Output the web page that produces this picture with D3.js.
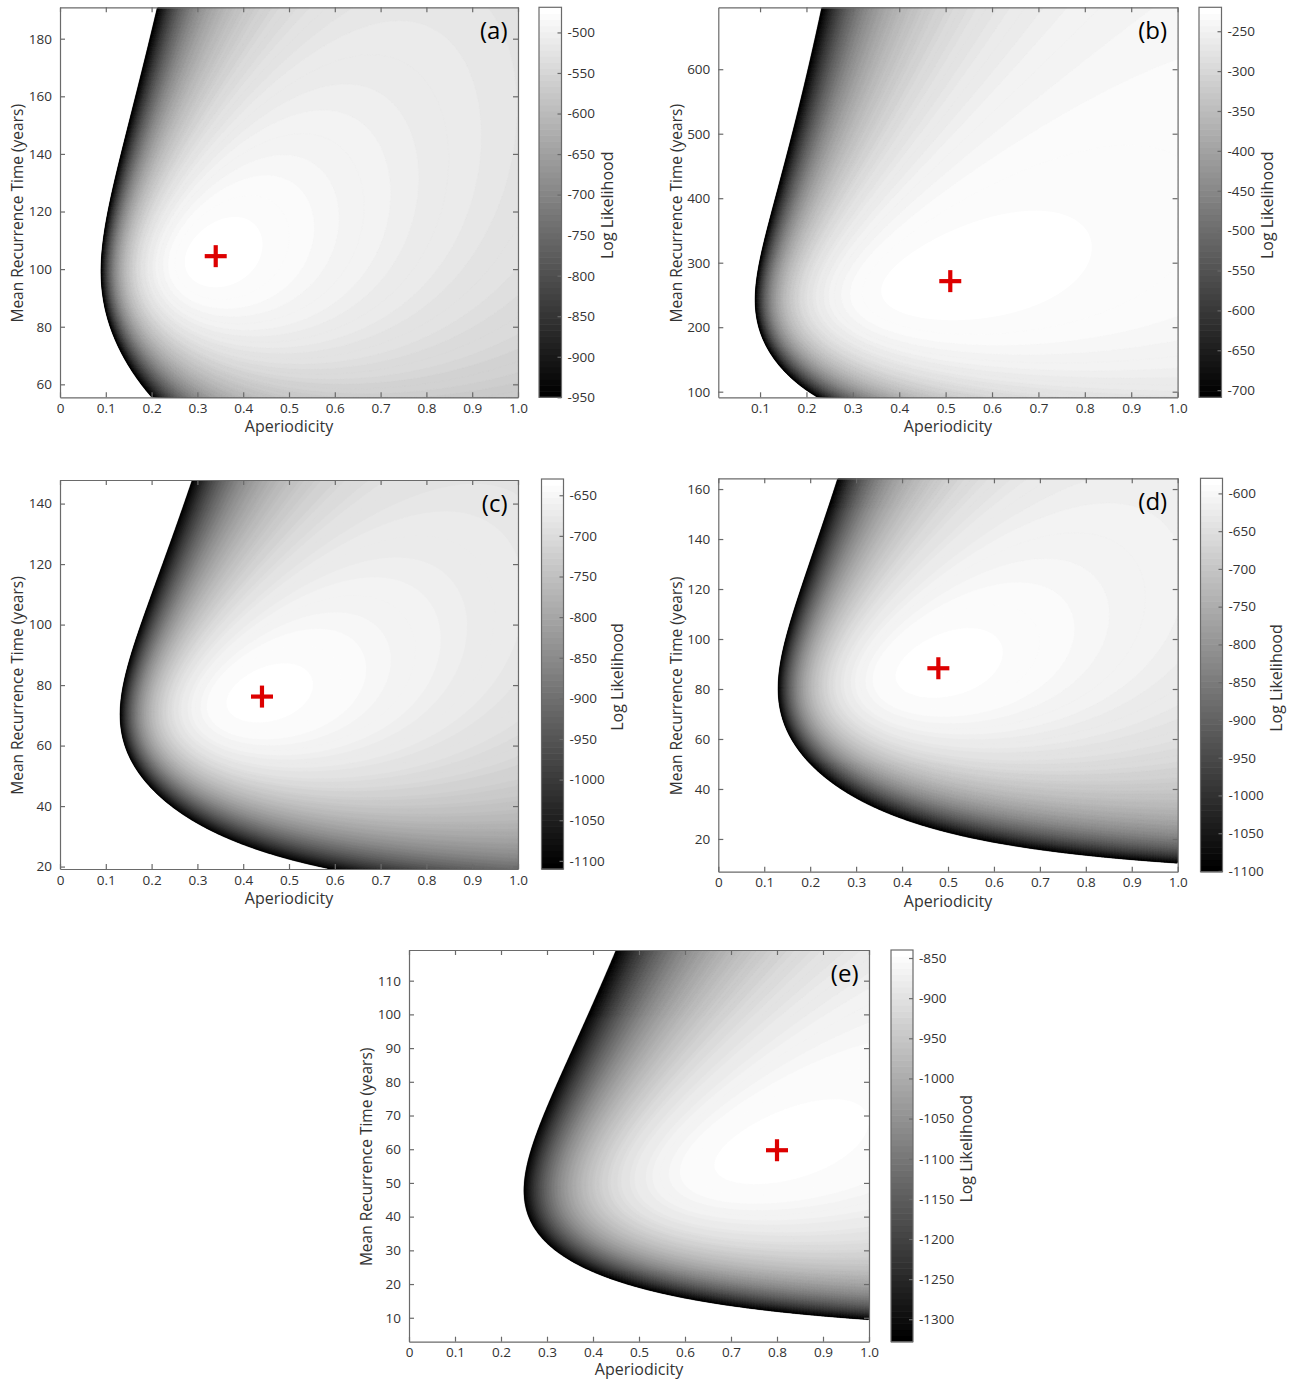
<!DOCTYPE html>
<html>
<head>
<meta charset="utf-8">
<script src="https://cdn.jsdelivr.net/npm/d3@7"></script>
<style>
  body { margin: 0; background: #fff; }
  svg text { font-family: "Open Sans", "Noto Sans", sans-serif; }
</style>
</head>
<body>
<svg id="fig" width="1295" height="1380"></svg>
<script>
// ---- BPT log-likelihood surfaces, one per fault section ----
const panelIds = ["a", "b", "c", "d", "e"];

// Maximum-likelihood estimates (red crosses)
const bestAperiodicity = [0.340, 0.510, 0.441, 0.479, 0.800];
const bestRecurrence   = [104.5, 271.4, 76.2, 88.3, 59.7];

// Effective number of recurrence intervals behind each surface
const intervalCounts = [92, 37, 128, 111, 165];

// Colour limits of the log likelihood (top = peak value)
const logLikMax = [-469, -220, -630, -580, -840];
const logLikMin = [-950, -709, -1110, -1101, -1328];

// Axis extents
const aperiodicityExtent = [[0, 1], [0.01, 1], [0, 1], [0, 1], [0, 1]];
const recurrenceExtent   = [[55.5, 190.9], [91.3, 696], [19.2, 147.8], [6.9, 164.3], [2.9, 119.1]];

// Tick values
const xTicksFull = [0, 0.1, 0.2, 0.3, 0.4, 0.5, 0.6, 0.7, 0.8, 0.9, 1.0];
const xTicksNoZero = [0.1, 0.2, 0.3, 0.4, 0.5, 0.6, 0.7, 0.8, 0.9, 1.0];
const xTicks = [xTicksFull, xTicksNoZero, xTicksFull, xTicksFull, xTicksFull];
const yTicks = [
  [60, 80, 100, 120, 140, 160, 180],
  [100, 200, 300, 400, 500, 600],
  [20, 40, 60, 80, 100, 120, 140],
  [20, 40, 60, 80, 100, 120, 140, 160],
  [10, 20, 30, 40, 50, 60, 70, 80, 90, 100, 110]
];
const colorbarTicks = [
  [-500, -550, -600, -650, -700, -750, -800, -850, -900, -950],
  [-250, -300, -350, -400, -450, -500, -550, -600, -650, -700],
  [-650, -700, -750, -800, -850, -900, -950, -1000, -1050, -1100],
  [-600, -650, -700, -750, -800, -850, -900, -950, -1000, -1050, -1100],
  [-850, -900, -950, -1000, -1050, -1100, -1150, -1200, -1250, -1300]
];

// ---- layout (pixel boxes: left, top, right, bottom) ----
const plotBoxes = [
  [60, 7.3, 518, 397.3],
  [718.3, 7.3, 1177.6, 397.3],
  [60, 480, 518, 869],
  [718.3, 478.3, 1177.7, 871.7],
  [409, 950, 869, 1341.7]
];
const barBoxes = [
  [539, 7.3, 561.5, 397.3],
  [1199, 7.3, 1221.5, 397.3],
  [541.5, 479, 563.5, 869],
  [1200.5, 478.3, 1222.5, 871.7],
  [891, 950, 913, 1341.7]
];

const FIG_HEIGHT = 1380;
const AXIS_COLOR = "#6a6a6a";
const TEXT_COLOR = "#333";
const GRID_N = 300;        // grid resolution of each surface
const LEVEL_COUNT = 96;    // filled contour levels
const CMAP_SIZE = 64;      // entries of the gray colormap

const svg = d3.select("#fig");
const defs = svg.append("defs");

// Gray colormap with a fixed number of entries, black at the lower limit
function grayColor(v, lo, hi) {
  const t = (v - lo) / (hi - lo);
  const idx = Math.max(0, Math.min(CMAP_SIZE - 1, Math.floor(t * CMAP_SIZE)));
  const g = Math.round(idx / (CMAP_SIZE - 1) * 255);
  return d3.rgb(g, g, g).formatHex();
}

// Log likelihood of the Brownian passage time model for a set of intervals
// whose sample statistics give the stated maximum-likelihood estimates.
function logLikelihood(p, alpha, mu) {
  const a0 = bestAperiodicity[p], m0 = bestRecurrence[p];
  const n = intervalCounts[p], top = logLikMax[p];
  const r = mu / m0;
  const s2 = 1 + a0 * a0;
  return top + n * (0.5 * Math.log(r) - Math.log(alpha / a0) + 0.5
                    - (1 / r - 2 + r * s2) / (2 * alpha * alpha));
}

const fmtX = d => d === 0 ? "0" : d.toFixed(1);
const fmtInt = d => String(d);

panelIds.forEach((id, p) => {
  const [L, T, R, B] = plotBoxes[p];
  const [ax0, ax1] = aperiodicityExtent[p];
  const [my0, my1] = recurrenceExtent[p];
  const lo = logLikMin[p], hi = logLikMax[p];

  const x = d3.scaleLinear().domain([ax0, ax1]).range([L, R]);
  const y = d3.scaleLinear().domain([my0, my1]).range([B, T]);

  // grid coordinates -> data coordinates
  const gx = d3.scaleLinear().domain([0, GRID_N]).range([ax0, ax1]);
  const gy = d3.scaleLinear().domain([0, GRID_N]).range([my0, my1]);

  const values = new Float64Array(GRID_N * GRID_N);
  for (let j = 0; j < GRID_N; j++) {
    const mu = gy(j + 0.5);
    for (let i = 0; i < GRID_N; i++) {
      const a = gx(i + 0.5);
      values[j * GRID_N + i] = logLikelihood(p, a, mu);
    }
  }

  const levels = d3.range(LEVEL_COUNT).map(k => lo + k * (hi - lo) / LEVEL_COUNT);
  const bands = d3.contours().size([GRID_N, GRID_N]).thresholds(levels)(values);

  const proj = d3.geoTransform({
    point: function (cx, cy) { this.stream.point(x(gx(cx)), y(gy(cy))); }
  });
  const path = d3.geoPath(proj);

  const clipId = "clip-" + id;
  defs.append("clipPath").attr("id", clipId)
    .append("rect").attr("x", L).attr("y", T).attr("width", R - L).attr("height", B - T);

  const panel = svg.append("g").attr("class", "panel-" + id);

  panel.append("rect").attr("x", L).attr("y", T).attr("width", R - L).attr("height", B - T)
    .attr("fill", "#fff");

  panel.append("g").attr("clip-path", `url(#${clipId})`)
    .selectAll("path").data(bands).join("path")
    .attr("d", path)
    .attr("fill", d => grayColor(d.value, lo, hi))
    .attr("stroke", d => grayColor(d.value, lo, hi))
    .attr("stroke-width", 0.3);

  // best-fit marker
  const cx = x(bestAperiodicity[p]), cy = y(bestRecurrence[p]);
  const cross = panel.append("g").attr("stroke", "#dd0000").attr("stroke-width", 4.2);
  cross.append("line").attr("x1", cx - 11).attr("x2", cx + 11).attr("y1", cy).attr("y2", cy);
  cross.append("line").attr("x1", cx).attr("x2", cx).attr("y1", cy - 11).attr("y2", cy + 11);

  // axes with inward ticks on all four sides
  const styleAxis = g => {
    g.select(".domain").attr("stroke", AXIS_COLOR).attr("stroke-width", 1.2);
    g.selectAll(".tick line").attr("stroke", AXIS_COLOR).attr("stroke-width", 1.2);
    g.selectAll(".tick text").attr("fill", TEXT_COLOR).attr("font-size", 13.5)
      .attr("font-family", "\"Open Sans\", sans-serif");
  };
  panel.append("g").attr("transform", `translate(0,${B})`)
    .call(d3.axisBottom(x).tickValues(xTicks[p]).tickFormat(fmtX)
      .tickSizeInner(-5).tickSizeOuter(0).tickPadding(6))
    .call(styleAxis);
  panel.append("g").attr("transform", `translate(0,${T})`)
    .call(d3.axisTop(x).tickValues(xTicks[p]).tickFormat("")
      .tickSizeInner(-5).tickSizeOuter(0))
    .call(styleAxis);
  panel.append("g").attr("transform", `translate(${L},0)`)
    .call(d3.axisLeft(y).tickValues(yTicks[p]).tickFormat(fmtInt)
      .tickSizeInner(-5).tickSizeOuter(0).tickPadding(8))
    .call(styleAxis);
  panel.append("g").attr("transform", `translate(${R},0)`)
    .call(d3.axisRight(y).tickValues(yTicks[p]).tickFormat("")
      .tickSizeInner(-5).tickSizeOuter(0))
    .call(styleAxis);

  // axis titles (kept inside the figure's lower edge)
  panel.append("text")
    .attr("x", (L + R) / 2).attr("y", Math.min(B + 35, FIG_HEIGHT - 5.5))
    .attr("text-anchor", "middle").attr("font-size", 16).attr("fill", TEXT_COLOR)
    .text("Aperiodicity");
  panel.append("text")
    .attr("transform", `translate(${L - 42},${(T + B) / 2 + 11}) rotate(-90)`)
    .attr("dy", "0.35em")
    .attr("text-anchor", "middle").attr("font-size", 15.5).attr("fill", TEXT_COLOR)
    .text("Mean Recurrence Time (years)");

  // panel letter
  panel.append("text")
    .attr("x", R - 10.5).attr("y", T + 32)
    .attr("text-anchor", "end").attr("font-size", 24).attr("fill", "#000")
    .attr("font-family", "\"Liberation Sans\", Arial, sans-serif")
    .text(`(${id})`);

  // ---- colorbar ----
  const [cL, cT, cR, cB] = barBoxes[p];
  const cScale = d3.scaleLinear().domain([lo, hi]).range([cB, cT]);
  const steps = d3.range(CMAP_SIZE).map(k => ({
    v0: lo + k * (hi - lo) / CMAP_SIZE,
    v1: lo + (k + 1) * (hi - lo) / CMAP_SIZE
  }));
  const bar = svg.append("g").attr("class", "colorbar-" + id);
  bar.selectAll("rect.step").data(steps).join("rect").attr("class", "step")
    .attr("x", cL).attr("width", cR - cL)
    .attr("y", d => cScale(d.v1))
    .attr("height", d => cScale(d.v0) - cScale(d.v1) + 0.6)
    .attr("fill", d => grayColor((d.v0 + d.v1) / 2, lo, hi));
  bar.append("rect").attr("x", cL).attr("y", cT).attr("width", cR - cL).attr("height", cB - cT)
    .attr("fill", "none").attr("stroke", AXIS_COLOR).attr("stroke-width", 1.2);
  const cAxis = bar.append("g").attr("transform", `translate(${cR},0)`)
    .call(d3.axisRight(cScale).tickValues(colorbarTicks[p]).tickFormat(fmtInt)
      .tickSizeInner(-4).tickSizeOuter(0).tickPadding(6))
    .call(styleAxis);
  cAxis.select(".domain").remove();

  let labelRight = cR;
  cAxis.selectAll(".tick text").each(function () {
    const bb = this.getBBox();
    labelRight = Math.max(labelRight, cR + bb.x + bb.width);
  });
  bar.append("text")
    .attr("transform", `translate(${labelRight + 12},${(cT + cB) / 2 + 3}) rotate(-90)`)
    .attr("dy", "0.35em")
    .attr("text-anchor", "middle").attr("font-size", 16).attr("fill", TEXT_COLOR)
    .text("Log Likelihood");
});
</script>
</body>
</html>
